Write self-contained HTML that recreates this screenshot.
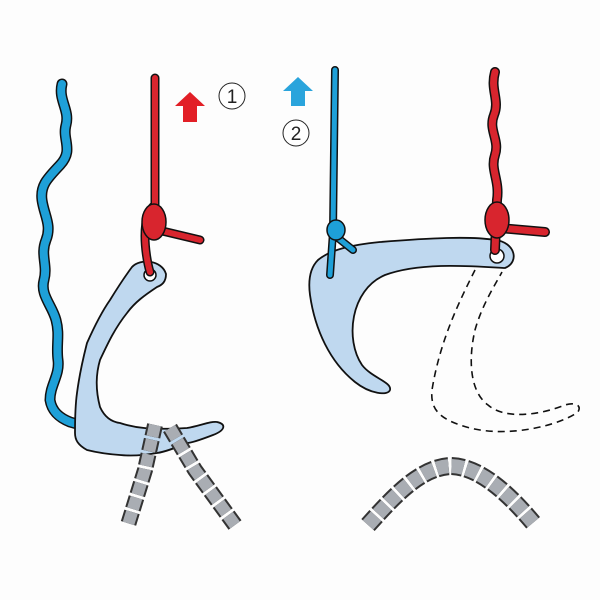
<!DOCTYPE html>
<html><head><style>body{margin:0;background:#fff}svg{display:block}</style></head><body>
<svg width="600" height="600" viewBox="0 0 600 600" xmlns="http://www.w3.org/2000/svg">
<rect width="600" height="600" fill="#fdfdfd"/>
<!-- left blue wavy rope -->
<path d="M62,84 C58,100 70,110 66,125 C62,140 74,150 60,165 C48,178 40,185 42,200 C44,215 52,225 46,240 C40,255 48,265 44,280 C40,295 52,305 56,320 C60,335 56,345 58,360 C60,375 50,385 50,400 C52,412 60,418 70,422 L98,430" fill="none" stroke="#111" stroke-width="11" stroke-linecap="round" stroke-linejoin="round"/>
<path d="M62,84 C58,100 70,110 66,125 C62,140 74,150 60,165 C48,178 40,185 42,200 C44,215 52,225 46,240 C40,255 48,265 44,280 C40,295 52,305 56,320 C60,335 56,345 58,360 C60,375 50,385 50,400 C52,412 60,418 70,422 L98,430" fill="none" stroke="#1ea0d8" stroke-width="8" stroke-linecap="round" stroke-linejoin="round"/>
<!-- anchor 1 -->
<path d="M132,267 C140,258 162,260 166,274 C166,282 162,285 157,287 C145,295 135,302 127,313 C115,328 108,343 100,360 C95,377 96,392 100,407 C105,418 112,422 120,423 C135,428 150,430 187,428 C200,426 210,421 217,422 C226,424 226,430 213,435 C200,440 190,443 187,443 C175,448 165,452 157,453 C140,456 130,456 120,455 C105,454 95,452 87,450 C78,445 75,440 75,433 C75,415 76,400 77,393 C80,370 84,355 87,343 C95,325 103,310 110,300 C118,287 126,275 132,267 Z" fill="#bfd8ef" stroke="#111" stroke-width="1.8"/>
<circle cx="150" cy="275" r="6" fill="#fff" stroke="#111" stroke-width="1.5"/>
<!-- red rope left -->
<path d="M155,78 L155,205 M155,205 C140,215 145,255 150,272 M158,230 L200,240" fill="none" stroke="#111" stroke-width="9" stroke-linecap="round"/>
<path d="M155,78 L155,205 M155,205 C140,215 145,255 150,272 M158,230 L200,240" fill="none" stroke="#d8252e" stroke-width="6" stroke-linecap="round"/>
<ellipse cx="154" cy="222" rx="12" ry="18" fill="#d8252e" stroke="#111" stroke-width="1.5"/>
<!-- chain left -->
<path d="M155,425 L145,470 L128,525" fill="none" stroke="#333" stroke-width="16" stroke-dasharray="12 3"/>
<path d="M155,425 L145,470 L128,525" fill="none" stroke="#a9adb3" stroke-width="12" stroke-dasharray="12 3"/>
<path d="M170,428 L195,470 L235,525" fill="none" stroke="#333" stroke-width="16" stroke-dasharray="12 3"/>
<path d="M170,428 L195,470 L235,525" fill="none" stroke="#a9adb3" stroke-width="12" stroke-dasharray="12 3"/>
<!-- arrows and numbers -->
<polygon points="190,92 205,106 197,106 197,122 183,122 183,106 175,106" fill="#e21f26"/>
<circle cx="232" cy="96" r="13" fill="#fff" stroke="#222" stroke-width="1"/>
<text x="232" y="103" font-family="Liberation Sans,sans-serif" font-size="19" text-anchor="middle" fill="#222">1</text>
<polygon points="298,77 313,91 305,91 305,106 291,106 291,91 283,91" fill="#2aa4dc"/>
<circle cx="296" cy="133" r="13" fill="#fff" stroke="#222" stroke-width="1"/>
<text x="296" y="140" font-family="Liberation Sans,sans-serif" font-size="19" text-anchor="middle" fill="#222">2</text>
<!-- anchor 2 -->
<path d="M318,260 C330,250 350,245 380,242 C430,238 470,236 495,240 C515,242 520,262 505,268 C470,266 420,262 385,275 C350,290 345,340 362,365 C372,378 392,382 390,390 C388,396 370,394 355,382 C330,362 315,330 310,295 C308,280 310,268 318,260 Z" fill="#bfd8ef" stroke="#111" stroke-width="1.8"/>
<circle cx="497" cy="256" r="7" fill="#fff" stroke="#111" stroke-width="1.5"/>
<!-- dashed ghost -->
<path d="M475,270 C460,300 440,340 432,390 C430,410 440,420 470,428 C510,438 560,425 578,412 C582,405 575,402 565,405 C540,415 505,420 488,405 C470,392 468,360 475,330 C482,305 495,285 502,272" fill="none" stroke="#111" stroke-width="1.6" stroke-dasharray="7 5"/>
<!-- blue rope right -->
<path d="M335,70 L333,232 L330,275 M338,238 L353,250" fill="none" stroke="#111" stroke-width="8" stroke-linecap="round"/>
<path d="M335,70 L333,232 L330,275 M338,238 L353,250" fill="none" stroke="#1ea0d8" stroke-width="5" stroke-linecap="round"/>
<ellipse cx="336" cy="230" rx="9" ry="10" fill="#1ea0d8" stroke="#111" stroke-width="1.5"/>
<!-- red rope right -->
<path d="M495,72 C490,90 500,100 494,115 C488,130 500,140 495,155 C490,170 500,180 497,200 L495,250 M500,228 L545,232" fill="none" stroke="#111" stroke-width="10" stroke-linecap="round"/>
<path d="M495,72 C490,90 500,100 494,115 C488,130 500,140 495,155 C490,170 500,180 497,200 L495,250 M500,228 L545,232" fill="none" stroke="#d8252e" stroke-width="7" stroke-linecap="round"/>
<ellipse cx="497" cy="220" rx="12" ry="18" fill="#d8252e" stroke="#111" stroke-width="1.5"/>
<!-- chain right -->
<path d="M368,525 C395,495 420,468 450,466 C480,466 510,495 535,525" fill="none" stroke="#333" stroke-width="18" stroke-dasharray="12 3"/>
<path d="M368,525 C395,495 420,468 450,466 C480,466 510,495 535,525" fill="none" stroke="#a9adb3" stroke-width="14" stroke-dasharray="12 3"/>
</svg>
</body></html>
